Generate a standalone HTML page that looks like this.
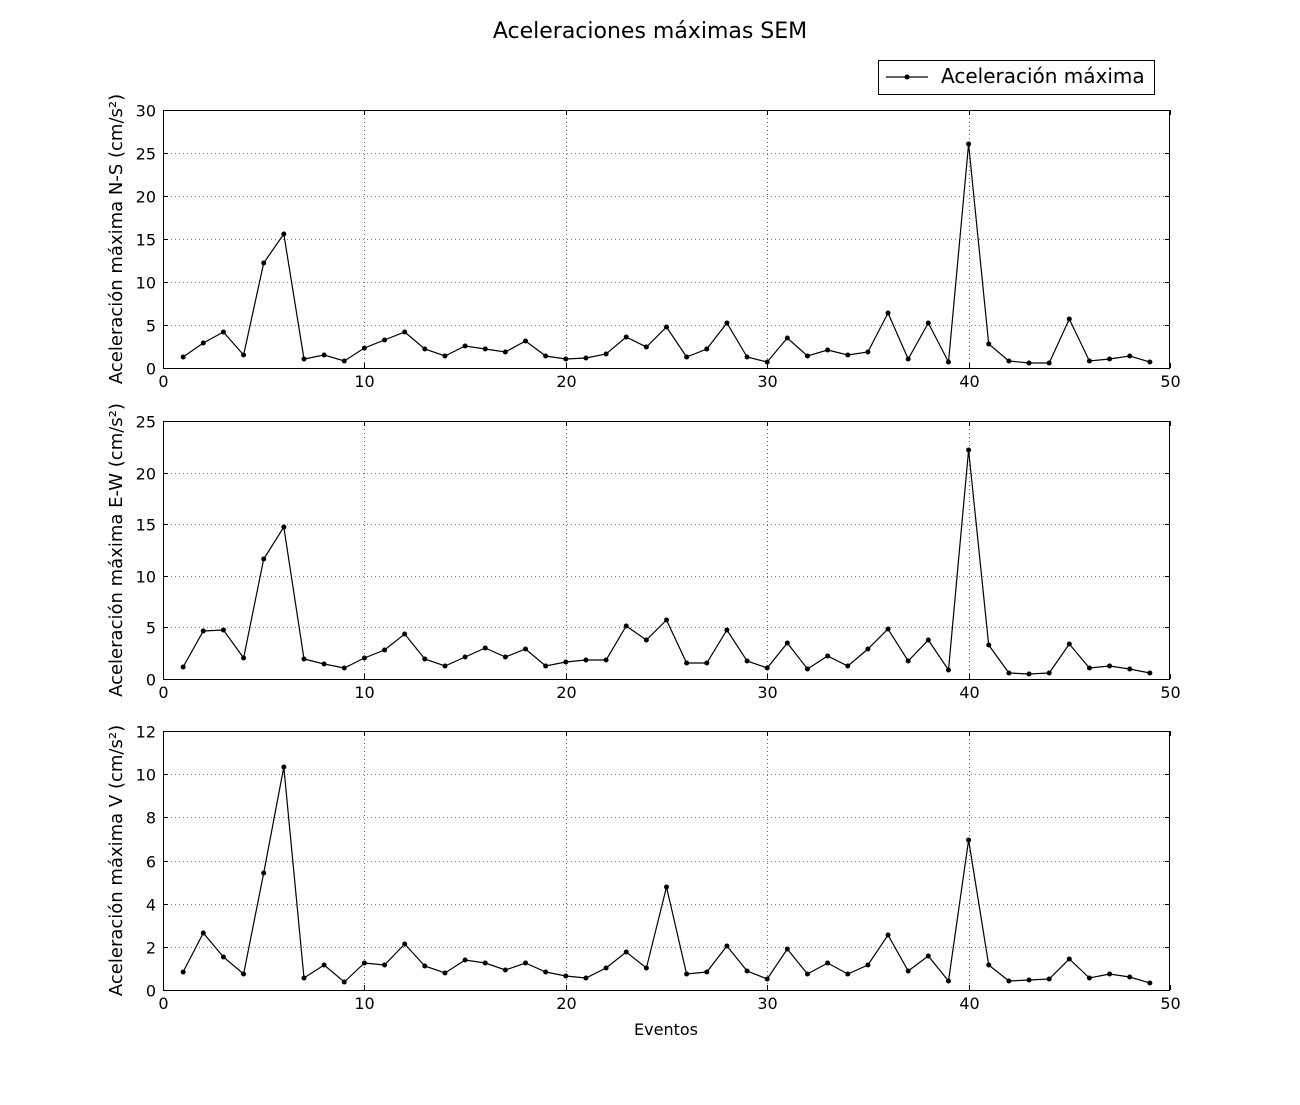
<!DOCTYPE html>
<html><head><meta charset="utf-8"><style>
html,body{margin:0;padding:0;background:#fff;}
svg text{font-family:"DejaVu Sans","Liberation Sans",sans-serif;fill:#000;}
</style></head><body>
<svg id="s" width="1300" height="1100" xmlns="http://www.w3.org/2000/svg">
<rect width="1300" height="1100" fill="#fff"/>
<text x="650" y="38" font-size="22" text-anchor="middle">Aceleraciones máximas SEM</text>
<rect x="878.5" y="60.5" width="276" height="34" fill="#fff" stroke="#000" stroke-width="1"/>
<line x1="886" y1="77" x2="928" y2="77" stroke="#000" stroke-width="1.2"/>
<circle cx="907" cy="77" r="2.5" fill="#000"/>
<text x="941" y="83" font-size="20">Aceleración máxima</text>
<text x="666" y="1035" font-size="16" text-anchor="middle">Eventos</text>
</svg>
<script>
var s=document.getElementById('s');var NS='http://www.w3.org/2000/svg';
function el(t,a,txt){var e=document.createElementNS(NS,t);for(var k in a)e.setAttribute(k,a[k]);if(txt!==undefined)e.textContent=txt;s.appendChild(e);return e;}
var X0=163,X1=1170;function px(v){return X0+(X1-X0)*v/50;}
var panels=[
{top:110,bot:368,max:30,step:5,label:'Aceleración máxima N-S (cm/s²)',
y:[357,343,332,355,263,234,359,355,361,348,340,332,349,356,346,349,352,341,356,359,358,354,337,347,327,357,349,323,357,362,338,356,350,355,352,313,359,323,362,144,344,361,363,363,319,361,359,356,362]},
{top:421,bot:679,max:25,step:5,label:'Aceleración máxima E-W (cm/s²)',
y:[667,631,630,658,559,527,659,664,668,658,650,634,659,666,657,648,657,649,666,662,660,660,626,640,620,663,663,630,661,668,643,669,656,666,649,629,661,640,670,450,645,673,674,673,644,668,666,669,673]},
{top:731,bot:990,max:12,step:2,label:'Aceleración máxima V (cm/s²)',
y:[972,933,957,974,873,767,978,965,982,963,965,944,966,973,960,963,970,963,972,976,978,968,952,968,887,974,972,946,971,979,949,974,963,974,965,935,971,956,981,840,965,981,980,979,959,978,974,977,983]}
];
panels.forEach(function(p){
  var h=p.bot-p.top;
  for(var v=10;v<50;v+=10){var x=Math.round(px(v))+.5;el('line',{x1:x,x2:x,y1:p.top,y2:p.bot,stroke:'#000','stroke-width':.6,'stroke-dasharray':'1,3'});}
  for(var v=p.step;v<p.max;v+=p.step){var y=Math.round(p.bot-h*v/p.max)+.5;el('line',{x1:X0,x2:X1,y1:y,y2:y,stroke:'#000','stroke-width':.6,'stroke-dasharray':'1,3'});}
  for(var v=0;v<=50;v+=10){var x=Math.round(px(v))+.5;
    el('line',{x1:x,x2:x,y1:p.bot,y2:p.bot-5,stroke:'#000'});el('line',{x1:x,x2:x,y1:p.top,y2:p.top+5,stroke:'#000'});
    el('text',{x:x,y:p.bot+19,'font-size':16,'text-anchor':'middle'},String(v));}
  for(var v=0;v<=p.max;v+=p.step){var y=Math.round(p.bot-h*v/p.max)+.5;
    el('line',{x1:X0,x2:X0+5,y1:y,y2:y,stroke:'#000'});el('line',{x1:X1,x2:X1-5,y1:y,y2:y,stroke:'#000'});
    el('text',{x:X0-7,y:y+6,'font-size':16,'text-anchor':'end'},String(v));}
  el('rect',{x:X0+.5,y:p.top+.5,width:X1-X0-1,height:h,fill:'none',stroke:'#000','stroke-width':1});
  var pts=p.y.map(function(y,i){return px(i+1).toFixed(1)+','+y;}).join(' ');
  el('polyline',{points:pts,fill:'none',stroke:'#000','stroke-width':1.2});
  p.y.forEach(function(y,i){el('circle',{cx:px(i+1),cy:y,r:2.5,fill:'#000'});});
  var cy=(p.top+p.bot)/2;
  el('text',{x:0,y:0,'font-size':18,'text-anchor':'middle',transform:'translate(122,'+cy+') rotate(-90)'},p.label);
});
</script>
</body></html>
